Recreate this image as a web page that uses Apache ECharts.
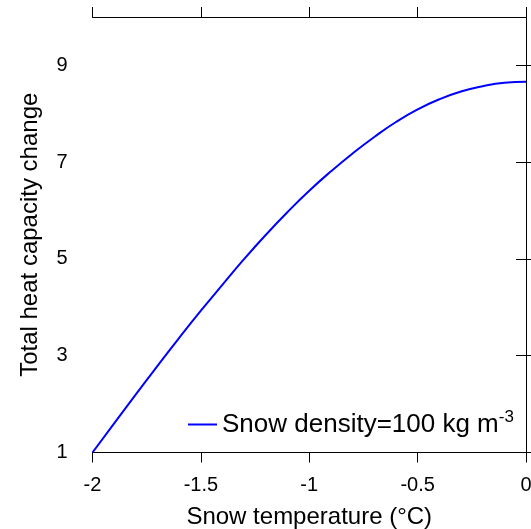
<!DOCTYPE html>
<html>
<head>
<meta charset="utf-8">
<script src="https://cdn.jsdelivr.net/npm/echarts@6/dist/echarts.min.js"></script>
<style>html,body{margin:0;padding:0;background:#fff;}#c{width:531px;height:529px;}</style>
</head>
<body>
<div id="c"></div>
<script>
const xValues = [-2.0,-1.9,-1.8,-1.7,-1.6,-1.5,-1.4,-1.3,-1.2,-1.1,-1.0,-0.9,-0.8,-0.7,-0.6,-0.5,-0.4,-0.3,-0.2,-0.1,0.0];
const yValues = [1.00,1.60,2.20,2.79,3.37,3.93,4.47,5.00,5.50,5.97,6.41,6.81,7.18,7.52,7.83,8.09,8.30,8.46,8.57,8.64,8.66];
const yTicks = [1,3,5,7,9];
const seriesName = 'Snow density=100 kg m-3';
const xTitle = 'Snow temperature (°C)';
const yTitle = 'Total heat capacity change';

const FONT = 'Liberation Sans';
const data = xValues.map((x,i)=>[x,yValues[i]]);
const axisLine = {show:true, lineStyle:{color:'#000', width:1}};
const tick = {show:true, inside:false, length:10, lineStyle:{color:'#000', width:1}};

const chart = echarts.init(document.getElementById('c'), null, {renderer:'canvas'});
chart.setOption({
  backgroundColor:'#fff',
  animation:false,
  grid:{left:92.5, right:5, top:17, bottom:76.5, containLabel:false, outerBoundsMode:'none'},
  legend:{
    show:true, padding:0,
    left:187, top:409, itemWidth:29, itemHeight:14, itemGap:0,
    data:[seriesName],
    itemStyle:{opacity:0},
    lineStyle:{color:'#0000ff', width:2},
    formatter: () => 'Snow density=100 kg m{sup|-3}',
    textStyle:{fontFamily:FONT, fontSize:26, color:'#000',
      rich:{sup:{fontFamily:FONT, fontSize:17, color:'#000', verticalAlign:'top', padding:[0,0,14,0]}}}
  },
  xAxis:[{
    type:'value', min:-2, max:0, interval:0.5, position:'bottom',
    axisLine, axisTick:tick, splitLine:{show:false},
    axisLabel:{fontFamily:FONT, fontSize:20, color:'#000', margin:23},
    name:xTitle, nameLocation:'middle', nameGap:53,
    nameTextStyle:{fontFamily:FONT, fontSize:24, color:'#000'}
  },{
    type:'value', min:-2, max:0, interval:0.5, position:'top',
    axisLine, axisTick:tick, splitLine:{show:false}, axisLabel:{show:false}
  }],
  yAxis:[{
    type:'value', min:1, max:10, position:'left',
    axisLine, axisTick:Object.assign({customValues:yTicks}, tick), splitLine:{show:false},
    axisLabel:{customValues:yTicks, fontFamily:FONT, fontSize:20, color:'#000', margin:25},
    name:yTitle, nameLocation:'middle', nameGap:50,
    nameTextStyle:{fontFamily:FONT, fontSize:24, color:'#000'}
  },{
    type:'value', min:1, max:10, position:'right',
    axisLine, axisTick:Object.assign({customValues:yTicks}, tick), splitLine:{show:false}, axisLabel:{show:false}
  }],
  series:[{
    name:seriesName, type:'line', data, smooth:0.5, showSymbol:false, symbol:'none',
    lineStyle:{color:'#0000ff', width:2}, itemStyle:{color:'#0000ff'}
  }]
});
</script>
</body>
</html>
